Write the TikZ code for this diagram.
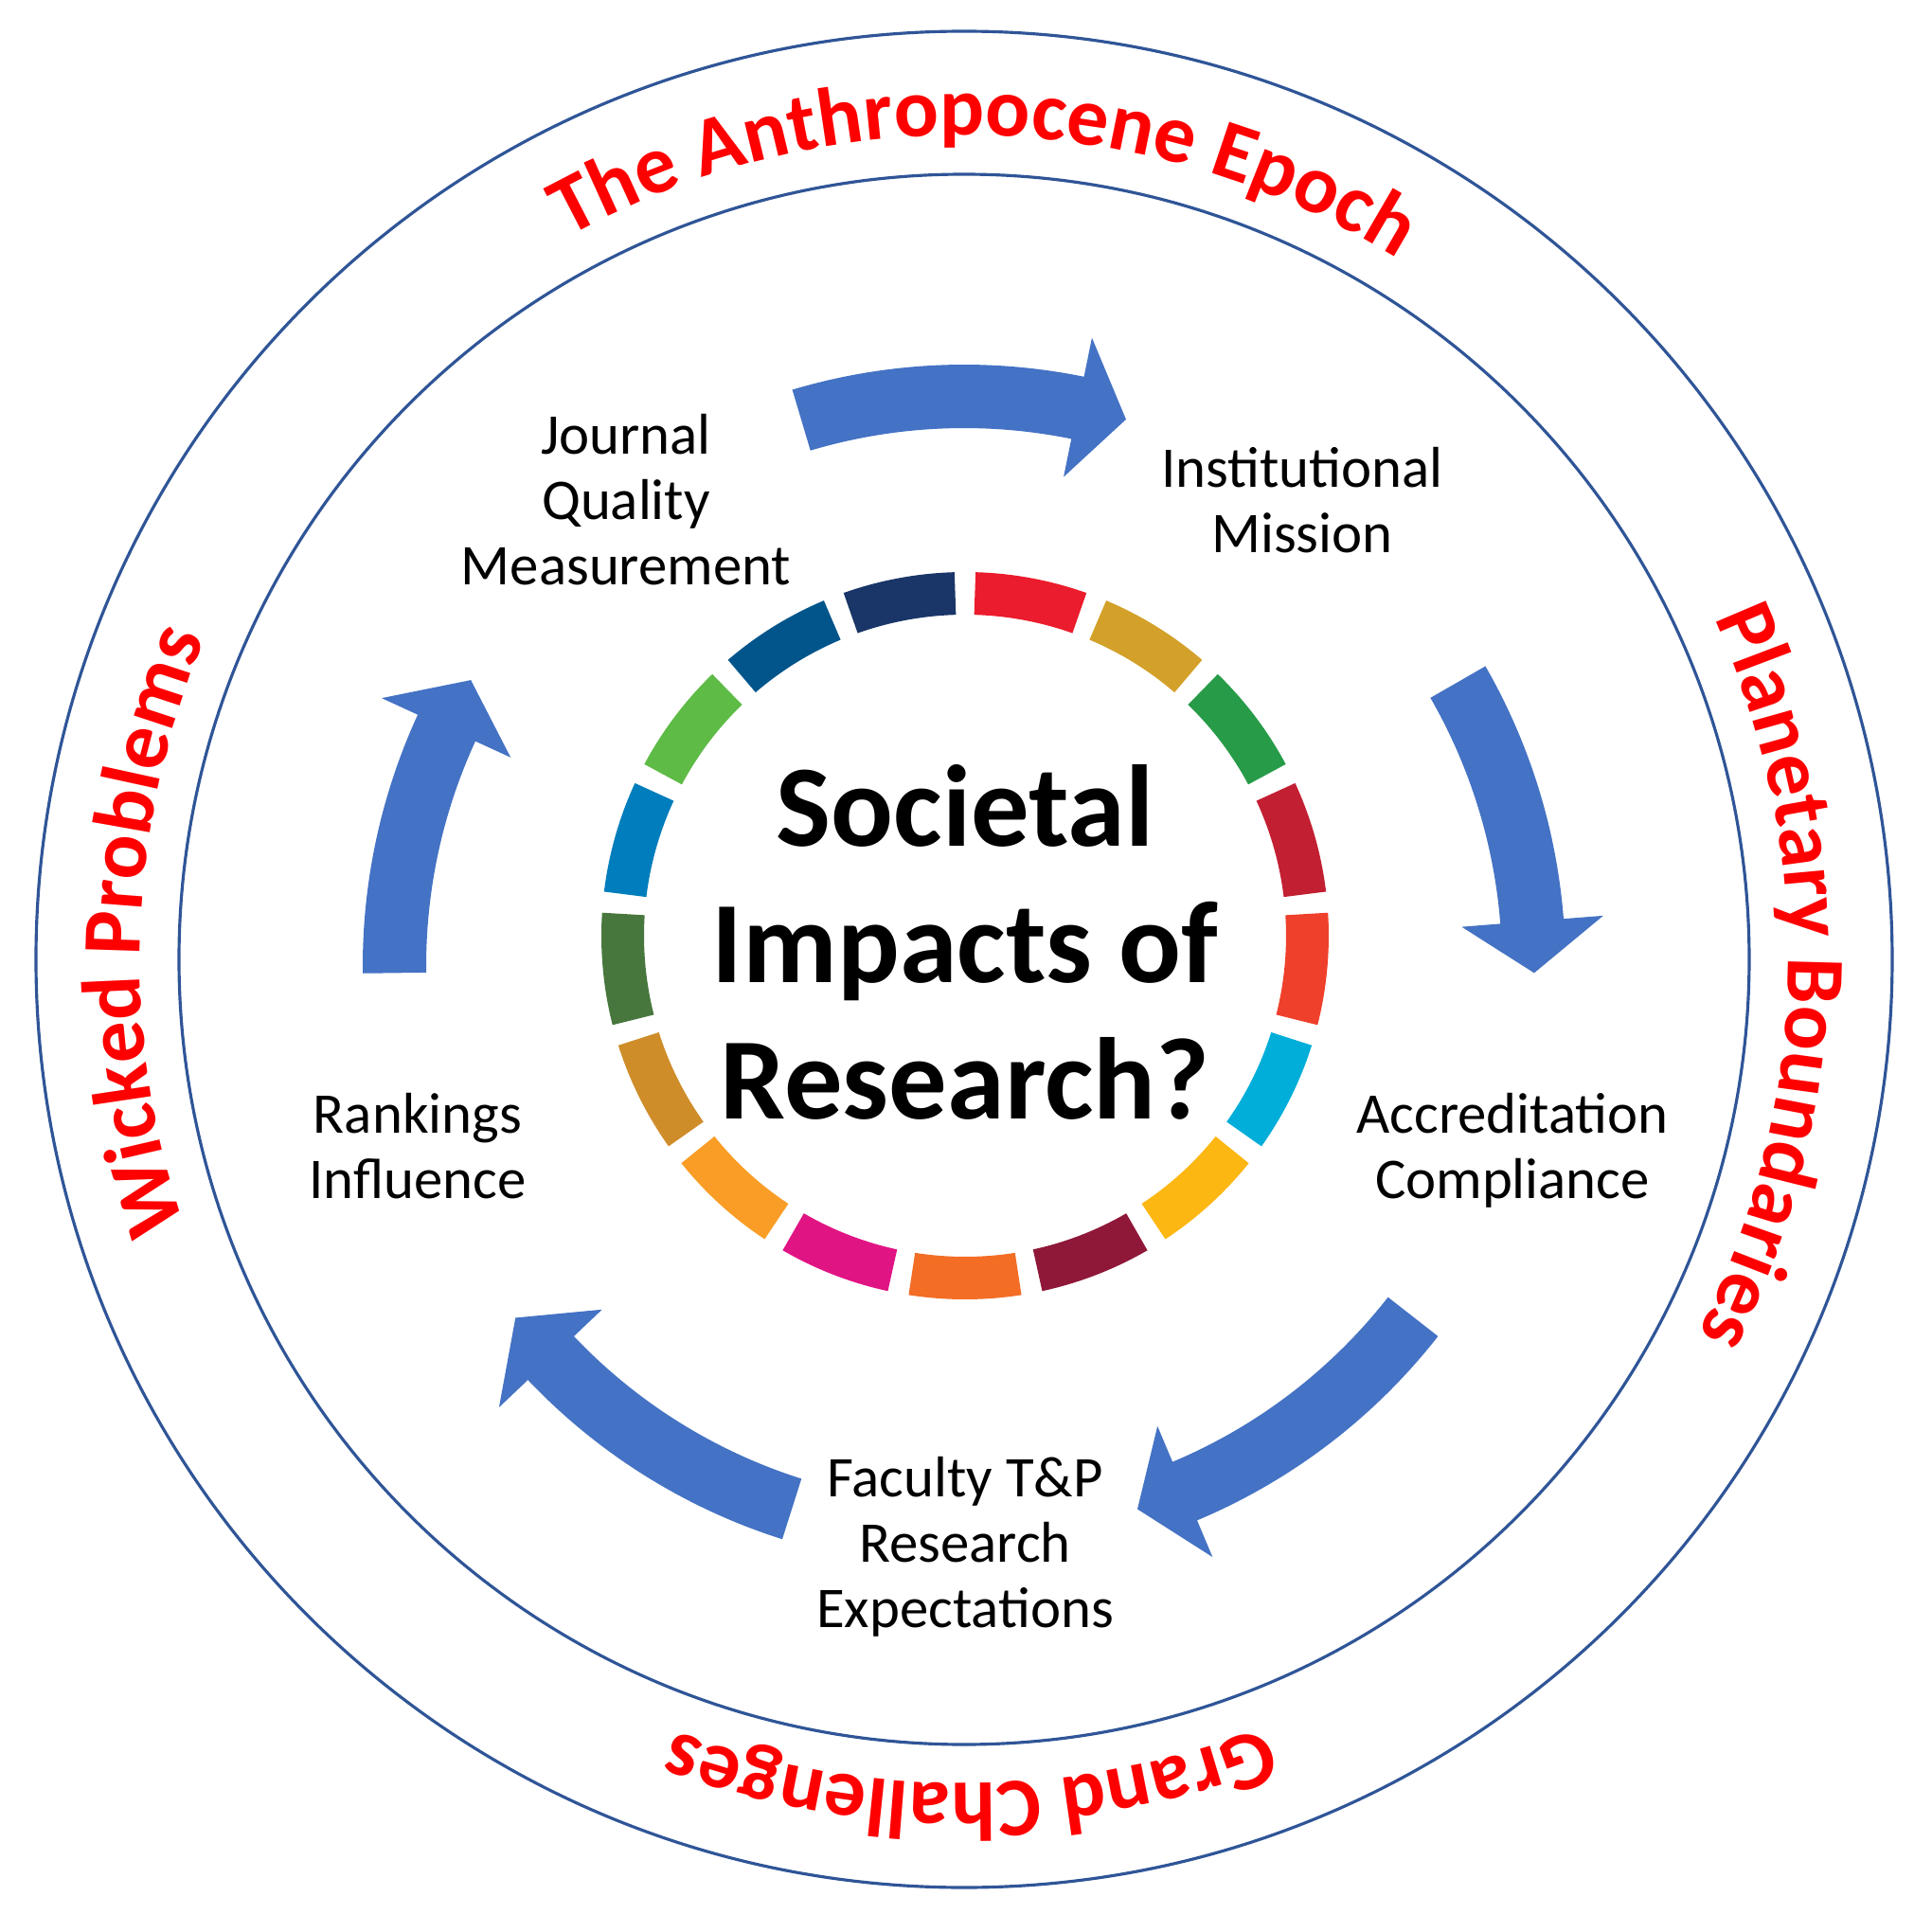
\documentclass[tikz,border=0pt]{standalone}
\usepackage{fontspec}
\setmainfont{Carlito}
\usetikzlibrary{decorations.text}
\definecolor{arrowblue}{HTML}{4472C4}
\definecolor{ringblue}{HTML}{2F5597}
\definecolor{bandred}{HTML}{FF0000}
\definecolor{sdg1}{HTML}{EB1C2D}
\definecolor{sdg2}{HTML}{D3A029}
\definecolor{sdg3}{HTML}{279B48}
\definecolor{sdg4}{HTML}{C31F33}
\definecolor{sdg5}{HTML}{EF402B}
\definecolor{sdg6}{HTML}{00AED9}
\definecolor{sdg7}{HTML}{FDB713}
\definecolor{sdg8}{HTML}{8F1838}
\definecolor{sdg9}{HTML}{F36D25}
\definecolor{sdg10}{HTML}{E11484}
\definecolor{sdg11}{HTML}{F99D26}
\definecolor{sdg12}{HTML}{CF8D2A}
\definecolor{sdg13}{HTML}{48773E}
\definecolor{sdg14}{HTML}{007DBC}
\definecolor{sdg15}{HTML}{5DBB46}
\definecolor{sdg16}{HTML}{02558B}
\definecolor{sdg17}{HTML}{1A3668}
\newcommand{\cyclearrow}[3]{\fill[arrowblue] (#1:5.68) arc[start angle=#1, end angle=#2, radius=5.68] -- (#2:5.27) -- (#3:6.02) -- (#2:6.77) -- (#2:6.35) arc[start angle=#2, end angle=#1, radius=6.35] -- cycle;}
\begin{document}
\begin{tikzpicture}[
    stage/.style={align=center, font=\fontsize{17.3}{19.6}\selectfont},
    rim/.style={draw=ringblue, line width=0.9pt},
    band/.style={decorate, decoration={text along path, text align=center, text color=bandred, text={|\fontsize{25}{30}\selectfont\bfseries|#1}}}
]
    \useasboundingbox (-10.18,-10.27) rectangle (10.22,10.13);
    \draw[rim] (0,0) circle[radius=9.80];
    \draw[rim] (0,0) circle[radius=8.29];
    \path[band={The Anthropocene Epoch}] (168.5:8.70) arc[start angle=168.5, end angle=8.5, radius=8.70];
    \path[band={Planetary Boundaries}] (78.7:8.70) arc[start angle=78.7, end angle=-81.3, radius=8.70];
    \path[band={Grand Challenges}] (-9.6:8.70) arc[start angle=-9.6, end angle=-169.6, radius=8.70];
    \path[band={Wicked Problems}] (258:8.70) arc[start angle=258, end angle=98, radius=8.70];
    \begin{scope}[shift={(0.01,0.25)}]
    \foreach \k in {1,...,17}
    \draw[draw=sdg\k, line width=4.5mm] ({90-(\k-1)*360/17-1.65}:3.615) arc[start angle={90-(\k-1)*360/17-1.65}, end angle={90-\k*360/17+1.65}, radius=3.615];
    \end{scope}
    \begin{scope}[shift={(0,-0.07)}]
    \cyclearrow{106.6}{78.5}{73.5}
    \cyclearrow{29.9}{4.5}{-0.7}
    \cyclearrow{-38}{-67.2}{-72.3}
    \cyclearrow{-107.6}{-136.5}{-141.9}
    \cyclearrow{-179.3}{-204.7}{-210.1}
    \end{scope}
    \node[align=center, font=\fontsize{34.9}{41}\selectfont\bfseries] (sir) at (0.01,0.18) {Societal\\Impacts of\\Research?};
    \node[stage] (jqm) at (-3.57,4.85) {Journal\\Quality\\Measurement};
    \node[stage] (mission) at (3.57,4.85) {Institutional\\Mission};
    \node[stage] (accred) at (5.79,-2.02) {Accreditation\\Compliance};
    \node[stage] (faculty) at (0.01,-6.2) {Faculty T\&P\\Research\\Expectations};
    \node[stage] (rank) at (-5.77,-1.97) {Rankings\\Influence};
\end{tikzpicture}
\end{document}
